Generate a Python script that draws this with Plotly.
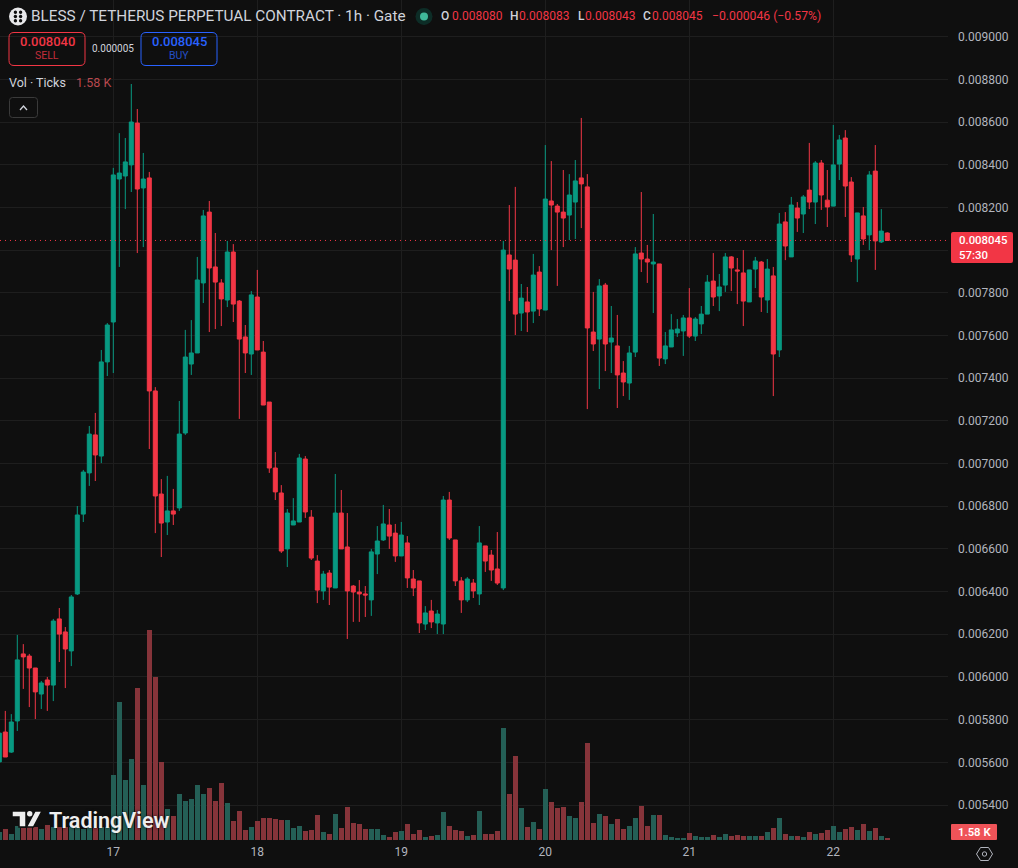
import numpy as np
import pandas as pd
import plotly.graph_objects as go

# Hourly BLESS/USDT perpetual candles, prices in millionths of a USDT.
opens = [
    5602, 5742, 5648, 5794, 6108, 6098, 6042, 5920, 5986, 5962,
    6272, 6211, 6122, 6389, 6763, 6956, 7134, 7035, 7476,
    7663, 8333, 8347, 8399, 8595, 8291, 8338, 7340, 6857, 6726,
    6778, 6792, 7143, 7466, 7518, 7846, 8178, 7921, 7846, 7766,
    7991, 7761, 7593, 7513, 7780, 7522, 7288, 6979, 6862, 6600,
    6712, 6726, 7021, 6749, 6543, 6403, 6487, 6417, 6768, 6609,
    6426, 6398, 6389, 6361, 6576, 6642, 6712, 6674, 6567, 6628,
    6459, 6450, 6248, 6309, 6253, 6248, 6829, 6642, 6450, 6361,
    6440, 6389, 6614, 6571, 6506, 6417, 7977, 7953, 7705, 7757,
    7714, 7897, 7719, 8230, 8206, 8178, 8164, 8225, 8338, 8296,
    7616, 7583, 7836, 7569, 7551, 7424, 7377, 7522, 7986, 7958,
    7935, 7935, 7490, 7546, 7612, 7621, 7682, 7597, 7654, 7700,
    7855, 7785, 7836, 7968, 7907, 7893, 7757, 7911, 7944, 7766,
    7879, 7532, 8132, 7968, 8197, 8169, 8281, 8225, 8408, 8234,
    8206, 8403, 8525, 8319, 7958, 8160, 8071, 8370, 8038, 8080,
]
highs = [
    5747, 5841, 5826, 6197, 6154, 6108, 6042, 5981, 6000, 6272,
    6323, 6234, 6384, 6801, 6970, 7176, 7237, 7532, 7658,
    8385, 8548, 8525, 8778, 8661, 8455, 8366, 7358, 6927, 6942,
    6881, 7293, 7626, 7672, 7968, 8188, 8230, 8080, 7864, 8043,
    8028, 7766, 7649, 7808, 7907, 7574, 7288, 7054, 6899, 6787,
    6838, 7045, 7035, 6782, 6571, 6497, 6501, 6951, 6876, 6768,
    6431, 6454, 6426, 6600, 6707, 6806, 6787, 6717, 6726, 6660,
    6501, 6450, 6332, 6361, 6314, 6848, 6867, 6642, 6468, 6468,
    6459, 6707, 6614, 6595, 6679, 8043, 8211, 8296, 7841, 7827,
    7982, 7925, 8492, 8417, 8216, 8375, 8356, 8422, 8619, 8356,
    7804, 7864, 7846, 7738, 7696, 7480, 7551, 8014, 8272, 8024,
    8169, 7935, 7616, 7700, 7677, 7696, 7822, 7686, 7738, 7883,
    7986, 7888, 7986, 7972, 7963, 8000, 7907, 7968, 7949, 7958,
    7921, 8174, 8178, 8249, 8225, 8258, 8502, 8417, 8422, 8375,
    8586, 8539, 8562, 8342, 8174, 8202, 8370, 8492, 8192, 8083,
]
lows = [
    5597, 5625, 5644, 5747, 5944, 5859, 5803, 5850, 5841, 5887,
    6070, 5948, 6051, 6384, 6726, 6895, 6918, 7002, 7410,
    7424, 7921, 8192, 8272, 7986, 8014, 7068, 6674, 6562, 6665,
    6712, 6778, 7134, 7415, 7518, 7752, 7616, 7630, 7644, 7733,
    7663, 7209, 7424, 7415, 7532, 7274, 6956, 6829, 6581, 6515,
    6712, 6726, 6745, 6548, 6346, 6361, 6337, 6417, 6600, 6178,
    6258, 6258, 6281, 6286, 6482, 6637, 6600, 6539, 6567, 6417,
    6379, 6206, 6220, 6229, 6201, 6201, 6642, 6426, 6300, 6351,
    6370, 6337, 6492, 6450, 6431, 6407, 7761, 7602, 7621, 7616,
    7658, 7691, 7719, 8000, 7832, 8014, 8047, 8052, 8103, 7255,
    7527, 7349, 7433, 7424, 7260, 7316, 7298, 7499, 7897, 7846,
    7705, 7457, 7466, 7546, 7593, 7504, 7588, 7574, 7607, 7700,
    7738, 7714, 7804, 7808, 7747, 7644, 7757, 7822, 7710, 7705,
    7316, 7499, 7953, 7968, 8085, 8080, 8192, 8122, 8188, 8108,
    8206, 8328, 8155, 7944, 7850, 8024, 8000, 7907, 8033, 8043,
]
closes = [
    5737, 5625, 5789, 6080, 6094, 6042, 5930, 5972, 5962, 6262,
    6201, 6131, 6375, 6759, 6960, 7138, 7040, 7476, 7649,
    8352, 8361, 8413, 8600, 8286, 8333, 7340, 6848, 6721, 6778,
    6763, 7138, 7499, 7518, 7860, 8160, 7916, 7850, 7771, 7991,
    7747, 7583, 7518, 7790, 7532, 7274, 6979, 6867, 6590, 6768,
    6731, 7026, 6773, 6557, 6407, 6482, 6421, 6768, 6600, 6403,
    6398, 6389, 6384, 6586, 6637, 6717, 6660, 6567, 6665, 6464,
    6417, 6253, 6300, 6258, 6295, 6829, 6651, 6450, 6361, 6459,
    6403, 6628, 6543, 6501, 6440, 8000, 7911, 7700, 7775, 7710,
    7883, 7724, 8239, 8211, 8178, 8150, 8258, 8324, 8310, 7635,
    7560, 7832, 7560, 7588, 7415, 7382, 7518, 7982, 7958, 7944,
    7944, 7494, 7551, 7626, 7630, 7682, 7597, 7677, 7700, 7850,
    7780, 7827, 7968, 7916, 7902, 7761, 7907, 7949, 7780, 7911,
    7513, 8122, 8019, 8211, 8150, 8249, 8225, 8408, 8258, 8202,
    8399, 8516, 8300, 7977, 8174, 8052, 8352, 8043, 8089, 8045,
]
# Tick volume per candle, in thousands.
volumes = [
    12, 16.5, 9, 21, 18, 19.5, 19.5, 16.5, 22.5, 19.5,
    19.5, 19.5, 19.5, 19.5, 16.5, 19.5, 18, 19.5, 19.5,
    97.5, 207, 90, 121.5, 228, 82.5, 315, 244.5, 117, 46.5,
    36, 69, 58.5, 61.5, 82.5, 69, 78, 58.5, 85.5, 55.5,
    28.5, 43.5, 15, 19.5, 28.5, 33, 33, 31.5, 30, 30,
    18, 21, 13.5, 15, 37.5, 12, 9, 39, 18, 49.5,
    25.5, 24, 16.5, 16.5, 16.5, 7.5, 4.5, 12, 13.5, 24,
    9, 15, 4.5, 6, 7.5, 42, 21, 15, 13.5, 6,
    7.5, 43.5, 9, 9, 13.5, 168, 69, 126, 48, 19.5,
    27, 16.5, 76.5, 57, 48, 49.5, 36, 33, 57, 145.5,
    25.5, 39, 36, 24, 31.5, 16.5, 21, 33, 51, 21,
    37.5, 37.5, 7.5, 4.5, 3, 3, 10.5, 6, 4.5, 4.5,
    7.5, 4.5, 9, 6, 7.5, 6, 6, 6, 6, 12,
    18, 33, 9, 6, 6, 4.5, 12, 9, 10.5, 15,
    21, 12, 16.5, 19.5, 15, 24, 13.5, 18, 6, 1.58,
]
assert len(opens) == len(highs) == len(lows) == len(closes) == len(volumes)

# Price scale ticks; the 0.008000 label sits behind the live price tag.
price_ticks = [0.0054, 0.0056, 0.0058, 0.0060, 0.0062, 0.0064, 0.0066, 0.0068, 0.0070,
               0.0072, 0.0074, 0.0076, 0.0078, 0.0080, 0.0082, 0.0084, 0.0086, 0.0088, 0.0090]
price_tick_text = [f"{t:.6f}" if abs(t - 0.0080) > 1e-9 else "" for t in price_ticks]

BG = "#0f0f0f"
GRID = "#1e1e1e"
UP = "#089981"
DOWN = "#f23645"
UP_VOL = "#245f56"
DOWN_VOL = "#86343a"
BLUE = "#2962ff"
TEXT = "#d1d4dc"
AXIS_TEXT = "#b2b5be"
FONT = "Roboto"

W, H = 1018, 868
PLOT_W, PLOT_H = 948, 840

last_price = closes[-1] * 1e-6
first_bar = pd.Timestamp("2025-10-16 05:00")
times = pd.date_range(first_bar, periods=len(opens), freq="h")
day_17 = pd.Timestamp("2025-10-17 00:00")
hour_px = 6.0
x_left = day_17 - pd.Timedelta(hours=113.3 / hour_px)
x_right = x_left + pd.Timedelta(hours=PLOT_W / hour_px)


def px(x):
    return x / PLOT_W


def py(y):
    return 1 - y / PLOT_H


def label(x, y, text, color=TEXT, size=12, anchor="left", weight=None, shadow=None, align=None):
    font = dict(family=FONT, size=size, color=color)
    if weight:
        font["weight"] = weight
    if shadow:
        font["shadow"] = shadow
    return dict(
        xref="paper", yref="paper", x=px(x), y=py(y), text=text, showarrow=False,
        xanchor=anchor, yanchor="middle", font=font, borderpad=0, align=align or anchor,
    )


def round_box(x0, y0, x1, y1, r=5, line=None, fill=None, width=1):
    a, b, c, d = px(x0), px(x1), py(y0), py(y1)
    rx, ry = r / PLOT_W, r / PLOT_H
    path = (
        f"M{a + rx},{c} L{b - rx},{c} Q{b},{c} {b},{c - ry} L{b},{d + ry} Q{b},{d} {b - rx},{d} "
        f"L{a + rx},{d} Q{a},{d} {a},{d + ry} L{a},{c - ry} Q{a},{c} {a + rx},{c} Z"
    )
    return dict(type="path", xref="paper", yref="paper", path=path,
                line=dict(color=line or "rgba(0,0,0,0)", width=width),
                fillcolor=fill or "rgba(0,0,0,0)", layer="above")


def poly(points, fill=None, line=None, width=1, close=True):
    body = " L".join(f"{px(x)},{py(y)}" for x, y in points)
    return dict(type="path", xref="paper", yref="paper",
                path="M" + body + (" Z" if close else ""),
                line=dict(color=line or "rgba(0,0,0,0)", width=width),
                fillcolor=fill or "rgba(0,0,0,0)", layer="above")


def disc(cx, cy, r, fill=None, line=None, width=1):
    return dict(type="circle", xref="paper", yref="paper",
                x0=px(cx - r), x1=px(cx + r), y0=py(cy - r), y1=py(cy + r),
                fillcolor=fill or "rgba(0,0,0,0)",
                line=dict(color=line or "rgba(0,0,0,0)", width=width), layer="above")


fig = go.Figure()
bar_colors = [UP_VOL if c >= o else DOWN_VOL for o, c in zip(opens, closes)]
fig.add_trace(go.Bar(x=times, y=volumes, marker=dict(color=bar_colors, line=dict(width=0)),
                     width=3600000 * 5 / 6, yaxis="y", showlegend=False))
fig.add_trace(go.Candlestick(
    x=times,
    open=np.array(opens) * 1e-6, high=np.array(highs) * 1e-6,
    low=np.array(lows) * 1e-6, close=np.array(closes) * 1e-6,
    increasing=dict(line=dict(color=UP, width=1), fillcolor=UP),
    decreasing=dict(line=dict(color=DOWN, width=1), fillcolor=DOWN),
    whiskerwidth=0, yaxis="y2", showlegend=False,
))

shapes = [
    dict(type="line", xref="paper", yref="y2", x0=0, x1=1, y0=last_price, y1=last_price,
         line=dict(color=DOWN, width=1, dash="1px,4px"), layer="above"),
    # Symbol badge and market status dot
    disc(18, 16.5, 9, fill="#e8e8ea"),
    disc(424, 16.5, 8.5, fill="rgba(8,153,129,0.22)"),
    disc(424, 16.5, 4, fill="#3fb99a"),
    # Sell / buy buttons
    round_box(9, 32.5, 85, 65.5, line=DOWN),
    round_box(141, 32.5, 217, 65.5, line=BLUE),
    # Collapse button
    round_box(9.5, 97.5, 37.5, 117.5, r=3, line="#3a3a3a"),
    poly([(20, 110), (23.5, 106), (27, 110)], line=TEXT, width=1.3, close=False),
    # Price and volume tags on the right scale
    round_box(951, 232, 1013, 263, r=2, fill=DOWN),
    round_box(951, 824, 997, 840, r=1, fill="#ef5358"),
    # Settings hexagon
    poly([(976.5, 854), (980.5, 847.5), (988.5, 847.5), (992.5, 854), (988.5, 860.5), (980.5, 860.5)],
         line=AXIS_TEXT, width=1),
    disc(984.5, 854, 2.2, line=AXIS_TEXT),
    # Watermark mark
    poly([(12, 811), (26, 811), (26, 827), (19, 827), (19, 817), (12, 817)], fill="#eeeeee", line=BG, width=1.5),
    poly([(35, 811), (42, 811), (33.5, 827), (26.5, 827)], fill="#eeeeee", line=BG, width=1.5),
    disc(29.7, 813.7, 2.7, fill="#eeeeee"),
]
for dx in (-2.6, 2.6):
    for dy in (-4.2, 0, 4.2):
        shapes.append(disc(18 + dx, 16.5 + dy, 1.7, fill=BG))

annotations = [
    label(30, 16, "BLESS / TETHERUS PERPETUAL CONTRACT · 1h · Gate", size=15.3),
    label(440, 16, "O", size=12, weight=500),
    label(451, 16, "0.008080", DOWN, 12),
    label(509, 16, "H", size=12, weight=500),
    label(518, 16, "0.008083", DOWN, 12),
    label(577, 16, "L", size=12, weight=500),
    label(584, 16, "0.008043", DOWN, 12),
    label(642, 16, "C", size=12, weight=500),
    label(651, 16, "0.008045", DOWN, 12),
    label(711, 16, "−0.000046 (−0.57%)", DOWN, 12.2),
    label(47, 41.5, "0.008040", DOWN, 13, "center", weight=500),
    label(47, 56, "SELL", "#c22d3a", 10.5, "center"),
    label(113, 48.5, "0.000005", TEXT, 10, "center"),
    label(179, 41.5, "0.008045", BLUE, 13, "center", weight=500),
    label(179, 56, "BUY", "#2450c8", 10.5, "center"),
    label(8, 82.5, "Vol · Ticks", TEXT, 12.5),
    label(75, 82.5, "1.58 K", "#b8484e", 12.5),
    label(958, 247.5, "0.008045<br>57:30", "#ffffff", 11.4, "left", weight=500),
    label(975, 832, "1.58 K", "#ffffff", 11.3, "center", weight=600),
    label(47.5, 820.5, "TradingView", "#eeeeee", 21.5, weight=600, shadow="0 0 3px #0f0f0f"),
]

fig.update_layout(
    width=W, height=H, autosize=False,
    margin=dict(l=0, r=W - PLOT_W, t=0, b=H - PLOT_H, pad=0),
    paper_bgcolor=BG, plot_bgcolor=BG,
    font=dict(family=FONT, color=AXIS_TEXT, size=12),
    showlegend=False, bargap=0, boxgap=0.33, boxgroupgap=0, hovermode=False,
    xaxis=dict(
        type="date", range=[x_left, x_right], rangeslider=dict(visible=False),
        tick0=day_17, dtick=86400000, tickformat="%-d", showgrid=True, gridcolor=GRID, gridwidth=1,
        showline=False, zeroline=False, ticks="", tickfont=dict(size=12, color=AXIS_TEXT),
        ticklabelstandoff=3,
    ),
    yaxis=dict(range=[0, 1260], visible=False, showgrid=False, zeroline=False, fixedrange=True),
    yaxis2=dict(
        overlaying="y", side="right", range=[0.0052362, 0.0091716],
        tickmode="array", tickvals=price_ticks, ticktext=price_tick_text,
        showgrid=True, gridcolor=GRID, gridwidth=1, zeroline=False,
        showline=False, ticks="", tickfont=dict(size=12, color=AXIS_TEXT), ticklabelstandoff=9,
    ),
    shapes=shapes, annotations=annotations,
)

fig.write_html("out.html", config=dict(displayModeBar=False))
